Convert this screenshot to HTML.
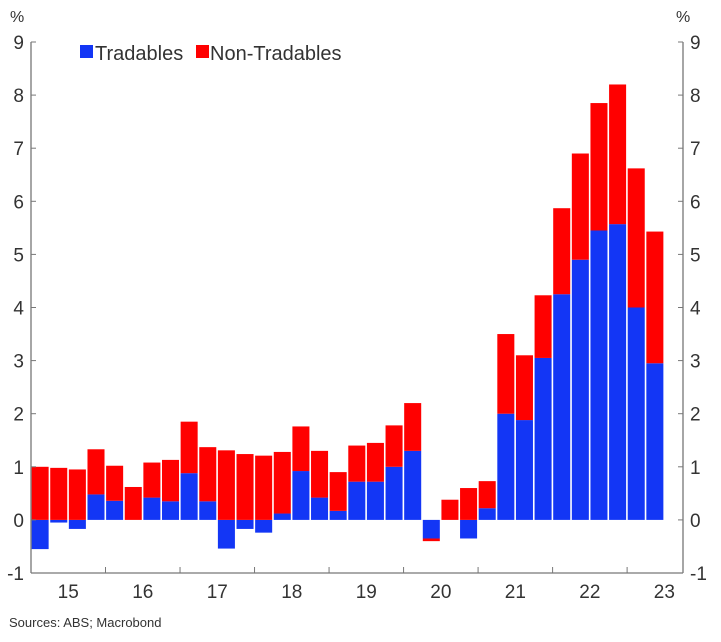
<!DOCTYPE html>
<html><head><meta charset="utf-8"><style>
body{margin:0;background:#fff;}
svg text{font-family:"Liberation Sans",Arial,sans-serif;fill:#333;}
</style></head><body>
<svg id="chart" width="721" height="637" xmlns="http://www.w3.org/2000/svg">
<g id="bars"></g>
<g id="axes"></g>
<g>
<rect x="80" y="45" width="13" height="13" fill="#1336f5"/>
<text x="95" y="60" font-size="20">Tradables</text>
<rect x="196" y="45" width="13" height="13" fill="#ff0000"/>
<text x="210" y="60" font-size="20">Non-Tradables</text>
</g>
<text x="10" y="22" font-size="16">%</text>
<text x="676" y="22" font-size="16">%</text>
<text x="9" y="627" font-size="13" fill="#444">Sources: ABS; Macrobond</text>
</svg>
<script>
const years = ["15","16","17","18","19","20","21","22","23"];
const tradables = [-0.55,-0.05,-0.17,0.48, 0.36,0.0,0.42,0.35, 0.88,0.35,-0.54,-0.17, -0.24,0.12,0.92,0.42, 0.17,0.72,0.72,1.0, 1.3,-0.35,0.0,-0.35, 0.22,2.0,1.88,3.05, 4.25,4.9,5.45,5.57, 4.0,2.95];
const nonTradables = [1.0,0.98,0.95,0.85, 0.66,0.62,0.66,0.78, 0.97,1.02,1.31,1.24, 1.21,1.16,0.84,0.88, 0.73,0.68,0.73,0.78, 0.9,-0.05,0.38,0.6, 0.51,1.5,1.22,1.18, 1.62,2.0,2.4,2.63, 2.62,2.48];
const yTicks = [-1,0,1,2,3,4,5,6,7,8,9];

const NS="http://www.w3.org/2000/svg";
const x0=31, x1=683, yTop=42, yBot=573, yMin=-1, yMax=9, nSlots=35;
const slot=(x1-x0)/nSlots;
const Y=v=>yBot-(v-yMin)/(yMax-yMin)*(yBot-yTop);
const X=i=>x0+i*slot;
function mk(tag,attrs,parent){const e=document.createElementNS(NS,tag);for(const k in attrs)e.setAttribute(k,attrs[k]);parent.appendChild(e);return e;}
const bars=document.getElementById('bars'), axes=document.getElementById('axes');
tradables.forEach((t,i)=>{
  const n=nonTradables[i];
  let pos=0,neg=0;
  [[t,'#1336f5','tradables'],[n,'#ff0000','non-tradables']].forEach(([v,c,nm])=>{
    let a,b;
    if(v>=0){a=pos;b=pos+v;pos=b;}else{a=neg;b=neg+v;neg=b;}
    const r=mk('rect',{x:X(i)+0.6,y:Math.min(Y(a),Y(b)),width:slot-1.6,height:Math.abs(Y(a)-Y(b)),fill:c},bars);
    
    
  });
});
let l=mk('line',{x1:x0,y1:yTop,x2:x0,y2:yBot,stroke:'#777','stroke-width':1.3},axes);

l=mk('line',{x1:x1,y1:yTop,x2:x1,y2:yBot,stroke:'#777','stroke-width':1.3},axes);

l=mk('line',{x1:x0,y1:yBot,x2:x1,y2:yBot,stroke:'#777','stroke-width':1.3},axes);

yTicks.forEach(v=>{
  mk('line',{x1:x0,y1:Y(v),x2:x0+5,y2:Y(v),stroke:'#777'},axes);
  mk('line',{x1:x1-5,y1:Y(v),x2:x1,y2:Y(v),stroke:'#777'},axes);
  const a=mk('text',{x:24,y:Y(v)+7,'font-size':19,'text-anchor':'end'},axes);a.textContent=v;
  
  const b=mk('text',{x:690,y:Y(v)+7,'font-size':19},axes);b.textContent=v;
  
});
years.forEach((yr,k)=>{
  const xs=X(k*4);
  if(k>0) mk('line',{x1:xs,y1:yBot,x2:xs,y2:yBot-6,stroke:'#777'},axes);
  const t=mk('text',{x:xs+2*slot,y:598,'font-size':19,'text-anchor':'middle'},axes);t.textContent=yr;
  
});
</script>
</body></html>
